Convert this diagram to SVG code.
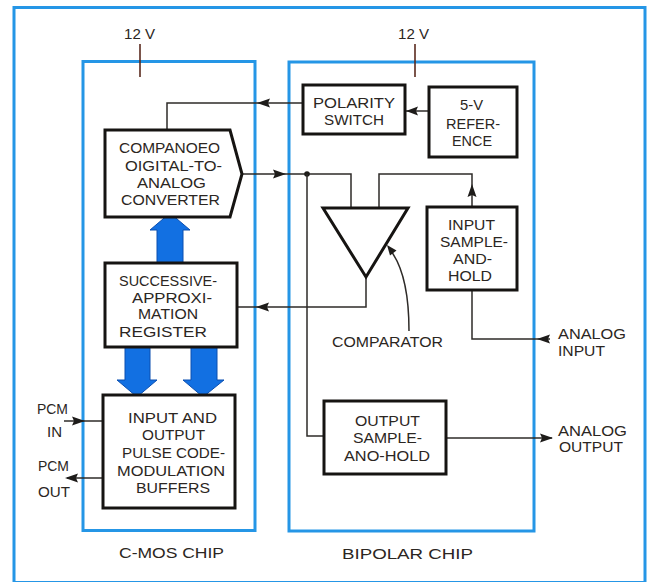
<svg xmlns="http://www.w3.org/2000/svg" width="649" height="582" viewBox="0 0 649 582">
<style>
.frame{fill:none;stroke:#2596e6;stroke-width:3}
.box{fill:#fff;stroke:#161412;stroke-width:3}
.wire{fill:none;stroke:#2e2b28;stroke-width:1.5}
.tick{fill:none;stroke:#5a2a1e;stroke-width:1.6}
.head{fill:#1e1c1a}
.bus{fill:#1270e2;stroke:#0b4fb0;stroke-width:1}
text{font-family:"Liberation Sans",Arial,sans-serif;font-size:15px;fill:#2b2622}
</style>
<rect width="649" height="582" fill="#fff"/>
<rect class="frame" x="14" y="7.5" width="631" height="575"/>
<g id="cmos-chip">
<rect class="frame" x="83" y="61.5" width="172" height="469"/>
<text x="119" y="558" textLength="105" lengthAdjust="spacingAndGlyphs">C-MOS CHIP</text>
</g>
<g id="bipolar-chip">
<rect class="frame" x="289" y="62" width="245" height="469"/>
<text x="342" y="559" textLength="131" lengthAdjust="spacingAndGlyphs">BIPOLAR CHIP</text>
</g>
<g id="supply-cmos">
<path class="tick" d="M140,44V77"/>
<text x="124" y="39" textLength="31" lengthAdjust="spacingAndGlyphs">12 V</text>
</g>
<g id="supply-bipolar">
<path class="tick" d="M415,44V77"/>
<text x="398" y="39" textLength="31" lengthAdjust="spacingAndGlyphs">12 V</text>
</g>
<g id="connectors">
<path class="wire" d="M303,103H167V130"/>
<polygon class="head" points="257,103 270,98.5 268,103 270,107.5"/>
<path class="wire" d="M429,111H405"/>
<polygon class="head" points="406,111 418,106.5 416,111 418,115.5"/>
<path class="wire" d="M242,174H351V208"/>
<polygon class="head" points="286,174 273,169.5 275,174 273,178.5"/>
<circle cx="307" cy="174" r="2.8" fill="#1e1c1a"/>
<path class="wire" d="M472,207V174H379V208"/>
<polygon class="head" points="472,184 467.5,197 472,195 476.5,197"/>
<path class="wire" d="M366,277V307H237"/>
<polygon class="head" points="256,307 269,302.5 267,307 269,311.5"/>
<path class="wire" d="M307,174V436H324"/>
<path class="wire" d="M472,290V339H550"/>
<polygon class="head" points="537,339 550,334.5 548,339 550,343.5"/>
<path class="wire" d="M446,438H552"/>
<polygon class="head" points="553,438 540,433.5 542,438 540,442.5"/>
<path class="wire" d="M64,421H103"/>
<polygon class="head" points="85,421 72,416.5 74,421 72,425.5"/>
<path class="wire" d="M103,478H67"/>
<polygon class="head" points="65,478 78,473.5 76,478 78,482.5"/>
<path class="wire" d="M409,331C409,300 405,270 391,251"/>
<polygon class="head" points="387,245 396.5,250.5 390,255.5"/>
<polygon class="bus" points="157,263 157,230 150,230 170,213 190,230 183,230 183,263"/>
<polygon class="bus" points="125,347 125,380 117,380 137,397 157,380 150,380 150,347"/>
<polygon class="bus" points="191,347 191,380 183,380 203,397 224,380 217,380 217,347"/>
</g>
<g id="dac">
<polygon class="box" points="105,130 230,130 242,174 230,217 105,217"/>
<text x="119" y="153" textLength="101" lengthAdjust="spacingAndGlyphs">COMPANOEO</text>
<text x="125" y="171" textLength="97" lengthAdjust="spacingAndGlyphs">OIGITAL-TO-</text>
<text x="137" y="188" textLength="69" lengthAdjust="spacingAndGlyphs">ANALOG</text>
<text x="121" y="205" textLength="99" lengthAdjust="spacingAndGlyphs">CONVERTER</text>
</g>
<g id="polarity-switch">
<rect class="box" x="303" y="85" width="102" height="49"/>
<text x="313" y="108" textLength="82" lengthAdjust="spacingAndGlyphs">POLARITY</text>
<text x="324" y="125" textLength="60" lengthAdjust="spacingAndGlyphs">SWITCH</text>
</g>
<g id="reference">
<rect class="box" x="429" y="87" width="88" height="70"/>
<text x="460" y="110" textLength="23" lengthAdjust="spacingAndGlyphs">5-V</text>
<text x="446" y="129" textLength="54" lengthAdjust="spacingAndGlyphs">REFER-</text>
<text x="452" y="146" textLength="40" lengthAdjust="spacingAndGlyphs">ENCE</text>
</g>
<g id="comparator">
<polygon class="box" points="323,208 408,208 366,277" fill="none"/>
<text x="332" y="347" textLength="111" lengthAdjust="spacingAndGlyphs">COMPARATOR</text>
</g>
<g id="input-sh">
<rect class="box" x="427" y="207" width="90" height="83"/>
<text x="448" y="230" textLength="47" lengthAdjust="spacingAndGlyphs">INPUT</text>
<text x="440" y="247" textLength="68" lengthAdjust="spacingAndGlyphs">SAMPLE-</text>
<text x="453" y="264" textLength="39" lengthAdjust="spacingAndGlyphs">AND-</text>
<text x="448" y="281" textLength="44" lengthAdjust="spacingAndGlyphs">HOLD</text>
</g>
<g id="analog-input">
<text x="558" y="339" textLength="68" lengthAdjust="spacingAndGlyphs">ANALOG</text>
<text x="558" y="356" textLength="47" lengthAdjust="spacingAndGlyphs">INPUT</text>
</g>
<g id="sar">
<rect class="box" x="105" y="263" width="132" height="84"/>
<text x="119" y="286" textLength="98" lengthAdjust="spacingAndGlyphs">SUCCESSIVE-</text>
<text x="132" y="303" textLength="80" lengthAdjust="spacingAndGlyphs">APPROXI-</text>
<text x="138" y="319" textLength="60" lengthAdjust="spacingAndGlyphs">MATION</text>
<text x="119" y="337" textLength="88" lengthAdjust="spacingAndGlyphs">REGISTER</text>
</g>
<g id="buffers">
<rect class="box" x="103" y="395" width="132" height="113"/>
<text x="128" y="423" textLength="89" lengthAdjust="spacingAndGlyphs">INPUT AND</text>
<text x="142" y="440" textLength="63" lengthAdjust="spacingAndGlyphs">OUTPUT</text>
<text x="122" y="458" textLength="103" lengthAdjust="spacingAndGlyphs">PULSE CODE-</text>
<text x="117" y="476" textLength="108" lengthAdjust="spacingAndGlyphs">MODULATION</text>
<text x="136" y="493" textLength="74" lengthAdjust="spacingAndGlyphs">BUFFERS</text>
</g>
<g id="pcm-in">
<text x="37" y="414" textLength="31" lengthAdjust="spacingAndGlyphs">PCM</text>
<text x="47" y="437" textLength="15" lengthAdjust="spacingAndGlyphs">IN</text>
</g>
<g id="pcm-out">
<text x="38" y="471" textLength="31" lengthAdjust="spacingAndGlyphs">PCM</text>
<text x="38" y="497" textLength="32" lengthAdjust="spacingAndGlyphs">OUT</text>
</g>
<g id="output-sh">
<rect class="box" x="324" y="401" width="122" height="73"/>
<text x="355" y="426" textLength="65" lengthAdjust="spacingAndGlyphs">OUTPUT</text>
<text x="353" y="443" textLength="69" lengthAdjust="spacingAndGlyphs">SAMPLE-</text>
<text x="344" y="461" textLength="86" lengthAdjust="spacingAndGlyphs">ANO-HOLD</text>
</g>
<g id="analog-output">
<text x="558" y="436" textLength="69" lengthAdjust="spacingAndGlyphs">ANALOG</text>
<text x="559" y="452" textLength="64" lengthAdjust="spacingAndGlyphs">OUTPUT</text>
</g>
</svg>
